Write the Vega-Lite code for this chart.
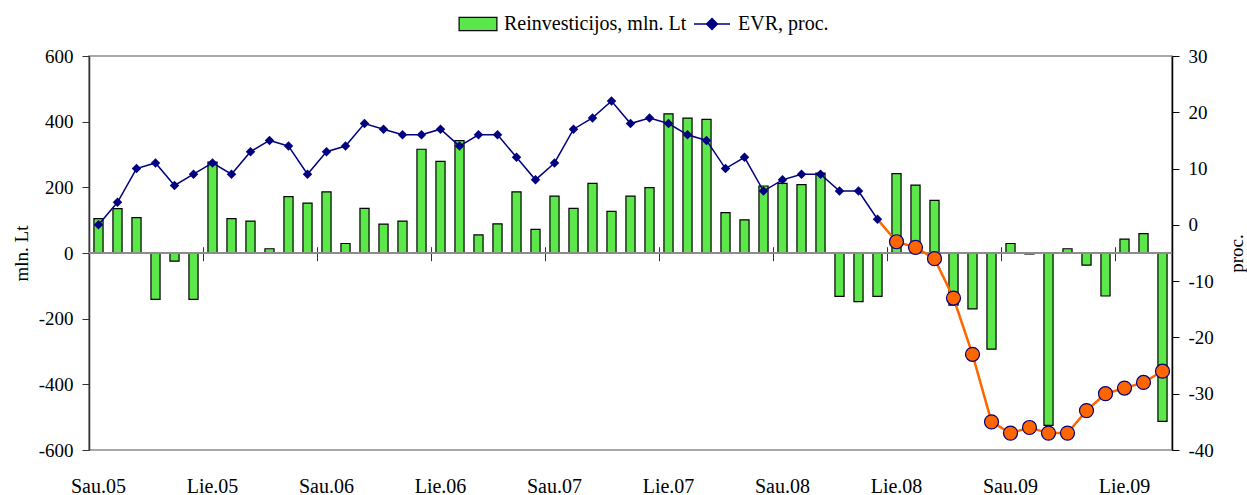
{
  "$schema": "https://vega.github.io/schema/vega-lite/v6.json",
  "width": 1083,
  "height": 394,
  "autosize": "none",
  "padding": {"left": 89, "top": 56, "right": 75, "bottom": 45},
  "config": {
    "font": "Liberation Serif",
    "view": {"stroke": "#8c8c8c", "strokeWidth": 1.5},
    "axis": {"grid": false, "labelFont": "Liberation Serif", "labelColor": "#000", "titleFont": "Liberation Serif", "titleColor": "#000", "titleFontWeight": "normal"},
    "legend": {"labelFont": "Liberation Serif", "labelFontSize": 20, "labelColor": "#000", "labelLimit": 0}
  },
  "data": {
    "values": [
      {"m": "2005-01", "r": 105, "e": 0},
      {"m": "2005-02", "r": 135, "e": 4},
      {"m": "2005-03", "r": 108, "e": 10},
      {"m": "2005-04", "r": -141, "e": 11},
      {"m": "2005-05", "r": -25, "e": 7},
      {"m": "2005-06", "r": -141, "e": 9},
      {"m": "2005-07", "r": 277, "e": 11},
      {"m": "2005-08", "r": 105, "e": 9},
      {"m": "2005-09", "r": 97, "e": 13},
      {"m": "2005-10", "r": 13, "e": 15},
      {"m": "2005-11", "r": 172, "e": 14},
      {"m": "2005-12", "r": 152, "e": 9},
      {"m": "2006-01", "r": 186, "e": 13},
      {"m": "2006-02", "r": 29, "e": 14},
      {"m": "2006-03", "r": 136, "e": 18},
      {"m": "2006-04", "r": 88, "e": 17},
      {"m": "2006-05", "r": 97, "e": 16},
      {"m": "2006-06", "r": 316, "e": 16},
      {"m": "2006-07", "r": 279, "e": 17},
      {"m": "2006-08", "r": 342, "e": 14},
      {"m": "2006-09", "r": 55, "e": 16},
      {"m": "2006-10", "r": 89, "e": 16},
      {"m": "2006-11", "r": 186, "e": 12},
      {"m": "2006-12", "r": 72, "e": 8},
      {"m": "2007-01", "r": 173, "e": 11},
      {"m": "2007-02", "r": 136, "e": 17},
      {"m": "2007-03", "r": 212, "e": 19},
      {"m": "2007-04", "r": 127, "e": 22},
      {"m": "2007-05", "r": 173, "e": 18},
      {"m": "2007-06", "r": 199, "e": 19},
      {"m": "2007-07", "r": 424, "e": 18},
      {"m": "2007-08", "r": 411, "e": 16},
      {"m": "2007-09", "r": 407, "e": 15},
      {"m": "2007-10", "r": 123, "e": 10},
      {"m": "2007-11", "r": 101, "e": 12},
      {"m": "2007-12", "r": 204, "e": 6},
      {"m": "2008-01", "r": 212, "e": 8},
      {"m": "2008-02", "r": 208, "e": 9},
      {"m": "2008-03", "r": 243, "e": 9},
      {"m": "2008-04", "r": -132, "e": 6},
      {"m": "2008-05", "r": -148, "e": 6},
      {"m": "2008-06", "r": -132, "e": 1},
      {"m": "2008-07", "r": 242, "e": -3},
      {"m": "2008-08", "r": 207, "e": -4},
      {"m": "2008-09", "r": 160, "e": -6},
      {"m": "2008-10", "r": -159, "e": -13},
      {"m": "2008-11", "r": -170, "e": -23},
      {"m": "2008-12", "r": -293, "e": -35},
      {"m": "2009-01", "r": 29, "e": -37},
      {"m": "2009-02", "r": -3, "e": -36},
      {"m": "2009-03", "r": -525, "e": -37},
      {"m": "2009-04", "r": 13, "e": -37},
      {"m": "2009-05", "r": -37, "e": -33},
      {"m": "2009-06", "r": -131, "e": -30},
      {"m": "2009-07", "r": 42, "e": -29},
      {"m": "2009-08", "r": 59, "e": -28},
      {"m": "2009-09", "r": -513, "e": -26}
    ]
  },
  "resolve": {"scale": {"y": "independent"}, "axis": {"x": "independent"}},
  "layer": [
    {
      "layer": [
        {
          "mark": {"type": "bar", "fill": "#5ce84a", "stroke": "#000000", "strokeWidth": 1.2},
          "encoding": {
            "x": {
              "field": "m", "type": "ordinal",
              "scale": {"paddingInner": 0.52, "paddingOuter": 0.26},
              "axis": {
                "values": ["2005-01", "2005-07", "2006-01", "2006-07", "2007-01", "2007-07", "2008-01", "2008-07", "2009-01", "2009-07"],
                "labelExpr": "(substring(datum.value, 5, 7) == '01' ? 'Sau.' : 'Lie.') + substring(datum.value, 2, 4)",
                "ticks": false, "domain": false, "labelPadding": 26, "labelAngle": 0, "title": null, "labelFontSize": 20
              }
            },
            "y": {
              "field": "r", "type": "quantitative",
              "scale": {"domain": [-600, 600], "nice": false},
              "axis": {
                "values": [-600, -400, -200, 0, 200, 400, 600],
                "labelExpr": "'' + datum.value",
                "tickSize": 7, "labelPadding": 9, "domainColor": "#333", "tickColor": "#333", "domainWidth": 1.5,
                "labelFontSize": 19, "title": "mln. Lt", "titleFontSize": 19, "titlePadding": 7
              }
            },
            "color": {
              "datum": "Reinvesticijos, mln. Lt", "type": "nominal",
              "scale": {"domain": ["Reinvesticijos, mln. Lt"], "range": ["#5ce84a"]},
              "legend": {
                "orient": "none", "legendX": 379, "legendY": -42, "title": null,
                "symbolType": "M-3.15,-1.1H3.15V1.1H-3.15Z", "symbolSize": 144,
                "symbolStrokeColor": "#000000", "symbolStrokeWidth": 1.2, "symbolOpacity": 1,
                "labelOffset": 16
              }
            }
          }
        },
        {
          "mark": {"type": "rule", "color": "#8c8c8c", "strokeWidth": 1.5},
          "encoding": {"y": {"datum": 0, "type": "quantitative"}}
        }
      ]
    },
    {
      "layer": [
        {
          "transform": [{"filter": "datum.m <= '2008-06'"}],
          "mark": {"type": "line", "strokeWidth": 1.5},
          "encoding": {
            "x": {
              "field": "m", "type": "ordinal",
              "axis": {
                "orient": "top", "offset": -204.7, "labels": false, "domain": false, "title": null,
                "tickSize": 14, "tickColor": "#333", "tickWidth": 1, "tickOffset": -9.5,
                "values": ["2005-01", "2005-07", "2006-01", "2006-07", "2007-01", "2007-07", "2008-01", "2008-07", "2009-01", "2009-07"]
              }
            },
            "y": {
              "field": "e", "type": "quantitative",
              "scale": {"domain": [-40, 30], "nice": false},
              "axis": {
                "orient": "right", "values": [-40, -30, -20, -10, 0, 10, 20, 30],
                "labelExpr": "'' + datum.value",
                "tickSize": 7, "labelPadding": 9, "domainColor": "#000", "tickColor": "#000", "domainWidth": 1.5,
                "labelFontSize": 19, "title": "proc.", "titleFontSize": 19, "titleAngle": 270, "titlePadding": 33
              }
            },
            "stroke": {
              "datum": "EVR, proc.", "type": "nominal",
              "scale": {"domain": ["EVR, proc."], "range": ["#000080"]},
              "legend": {
                "orient": "none", "legendX": 613, "legendY": -42, "title": null,
                "symbolType": "M-3,0H3M0,-0.9L0.9,0L0,0.9L-0.9,0Z", "symbolSize": 144,
                "symbolFillColor": "#000080", "symbolStrokeWidth": 1.5, "symbolOpacity": 1,
                "labelOffset": 16
              }
            }
          }
        },
        {
          "transform": [{"filter": "datum.m >= '2008-06'"}],
          "mark": {"type": "line", "color": "#ff6600", "strokeWidth": 2.5},
          "encoding": {
            "x": {"field": "m", "type": "ordinal"},
            "y": {"field": "e", "type": "quantitative"}
          }
        },
        {
          "transform": [{"filter": "datum.m <= '2008-06'"}],
          "mark": {"type": "point", "shape": "diamond", "filled": true, "color": "#000080", "size": 90, "opacity": 1},
          "encoding": {
            "x": {"field": "m", "type": "ordinal"},
            "y": {"field": "e", "type": "quantitative"}
          }
        },
        {
          "transform": [{"filter": "datum.m >= '2008-07'"}],
          "mark": {"type": "circle", "fill": "#ff6600", "stroke": "#000080", "strokeWidth": 1.2, "size": 196, "opacity": 1},
          "encoding": {
            "x": {"field": "m", "type": "ordinal"},
            "y": {"field": "e", "type": "quantitative"}
          }
        }
      ]
    }
  ]
}
